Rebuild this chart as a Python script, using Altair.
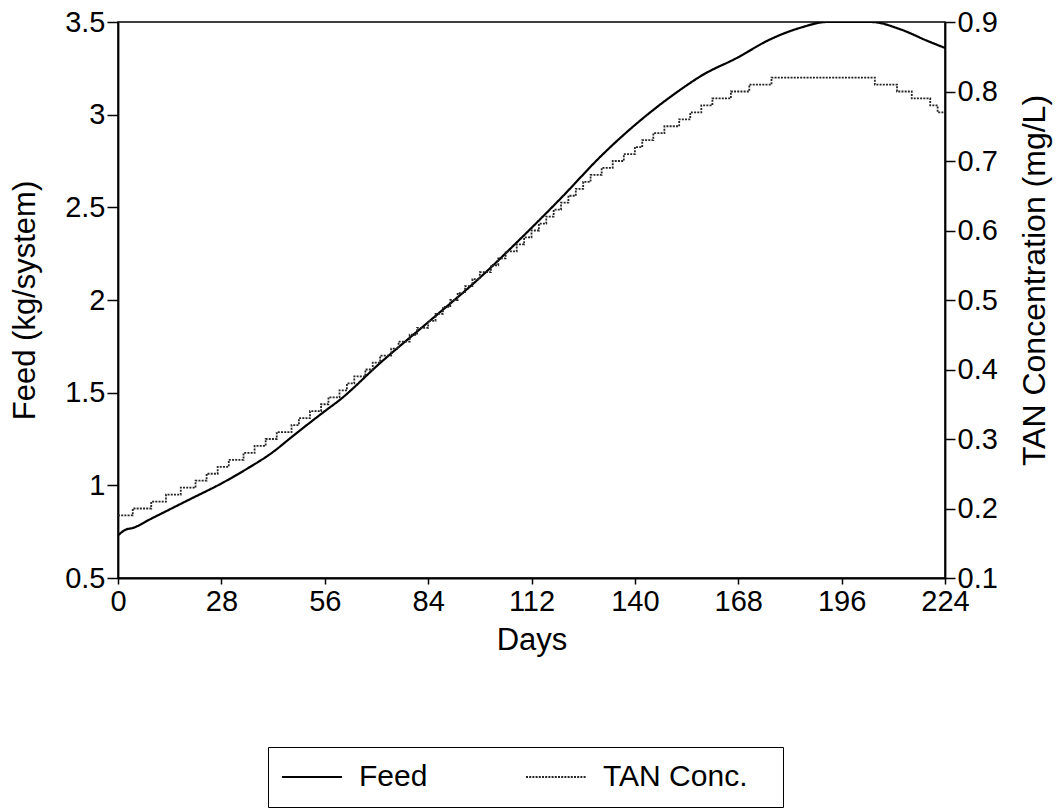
import altair as alt
import pandas as pd

# ---- data ----
feed_days = [0, 2, 4, 9, 13, 20, 28, 35, 42, 47, 56, 60, 71, 84, 98, 109, 120, 131,
             144, 152, 158, 168, 176, 185, 192, 198, 204, 212, 219, 224]
feed_vals = [0.73, 0.76, 0.77, 0.82, 0.86, 0.93, 1.01, 1.09, 1.18, 1.26, 1.40, 1.46, 1.66,
             1.88, 2.12, 2.33, 2.55, 2.78, 3.01, 3.13, 3.21, 3.31, 3.40, 3.47, 3.50, 3.50,
             3.50, 3.46, 3.40, 3.36]

tan_days = [0, 4, 9, 13, 17, 21, 24, 27, 30, 34, 37, 40, 43, 47, 49, 52, 55, 57, 60, 62,
            64, 67, 69, 71, 74, 76, 79, 81, 84, 86, 88, 90, 92, 94, 96, 98, 101, 103, 105,
            108, 110, 112, 114, 116, 118, 120, 122, 124, 126, 128, 131, 134, 137, 140, 142,
            145, 148, 152, 155, 158, 161, 166, 171, 177, 205, 211, 215, 220, 222, 224]
tan_vals = [0.19, 0.20, 0.21, 0.22, 0.23, 0.24, 0.25, 0.26, 0.27, 0.28, 0.29, 0.30, 0.31,
            0.32, 0.33, 0.34, 0.35, 0.36, 0.37, 0.38, 0.39, 0.40, 0.41, 0.42, 0.43, 0.44,
            0.45, 0.46, 0.47, 0.48, 0.49, 0.50, 0.51, 0.52, 0.53, 0.54, 0.55, 0.56, 0.57,
            0.58, 0.59, 0.60, 0.61, 0.62, 0.63, 0.64, 0.65, 0.66, 0.67, 0.68, 0.69, 0.70,
            0.71, 0.72, 0.73, 0.74, 0.75, 0.76, 0.77, 0.78, 0.79, 0.80, 0.81, 0.82, 0.81,
            0.80, 0.79, 0.78, 0.77, 0.77]

x_ticks = [0, 28, 56, 84, 112, 140, 168, 196, 224]
feed_ticks = [0.5, 1.0, 1.5, 2.0, 2.5, 3.0, 3.5]
tan_ticks = [0.1, 0.2, 0.3, 0.4, 0.5, 0.6, 0.7, 0.8, 0.9]
series_names = ["Feed", "TAN Conc."]

FONT = "Liberation Sans"

df_feed = pd.DataFrame({"day": feed_days, "value": feed_vals, "series": series_names[0]})
df_tan = pd.DataFrame({"day": tan_days, "value": tan_vals, "series": series_names[1]})

legend = alt.Legend(
    orient="none", legendX=150, legendY=725, direction="horizontal",
    title="\u00a0", titleOrient="right", titleFontSize=10, titlePadding=21,
    strokeColor="black", padding=15, labelFont=FONT, labelFontSize=30,
    labelColor="black", symbolType="M-3,0H3", symbolSize=400, labelOffset=32,
    symbolOffset=14, columnPadding=94, labelLimit=400,
)

color = alt.Color("series:N", scale=alt.Scale(domain=series_names, range=["#000000", "#262626"]), legend=legend)
dash = alt.StrokeDash("series:N", scale=alt.Scale(domain=series_names, range=[[1, 0], [2, 1.2]]), legend=legend)
sw = alt.StrokeWidth("series:N", scale=alt.Scale(domain=series_names, range=[2.2, 1.8]), legend=legend)

x = alt.X("day:Q", scale=alt.Scale(domain=[0, 224], nice=False, zero=False),
          axis=alt.Axis(values=x_ticks, title="Days", tickSize=6, labelPadding=3, titlePadding=9,
                        format="d", labelFlush=False))

feed_layer = alt.Chart(df_feed).mark_line(interpolate="monotone", clip=True).encode(
    x=x,
    y=alt.Y("value:Q", scale=alt.Scale(domain=[0.5, 3.5], nice=False, zero=False),
            axis=alt.Axis(orient="left", values=feed_ticks, format="~g", title="Feed (kg/system)",
                          tickSize=11, labelPadding=2, titlePadding=23, labelFlush=False)),
    color=color, strokeDash=dash, strokeWidth=sw,
)

tan_layer = alt.Chart(df_tan).mark_line(interpolate="step-after", clip=True).encode(
    x=x,
    y=alt.Y("value:Q", scale=alt.Scale(domain=[0.1, 0.9], nice=False, zero=False),
            axis=alt.Axis(orient="right", values=tan_ticks, format=".1f",
                          title="TAN Concentration (mg/L)", titleAngle=270, titleBaseline="top",
                          titleFontSize=32, titleY=258,
                          tickSize=10, labelPadding=2, titlePadding=22, labelFlush=False)),
    color=color, strokeDash=dash, strokeWidth=sw,
)

chart = (
    alt.layer(feed_layer, tan_layer)
    .resolve_scale(y="independent")
    .properties(width=827, height=556, autosize=alt.AutoSizeParams(type="none"),
                padding={"left": 118, "top": 22, "right": 119, "bottom": 230})
    .configure_view(stroke="black", strokeWidth=1.5)
    .configure_axis(grid=False, labelFont=FONT, labelFontSize=29, labelColor="black",
                    titleFont=FONT, titleFontSize=31, titleFontWeight="normal", titleColor="black",
                    domainColor="black", domainWidth=1.8, tickColor="black", tickWidth=1.5)
)

chart.save("out.html", embed_options={"renderer": "svg", "actions": False})
